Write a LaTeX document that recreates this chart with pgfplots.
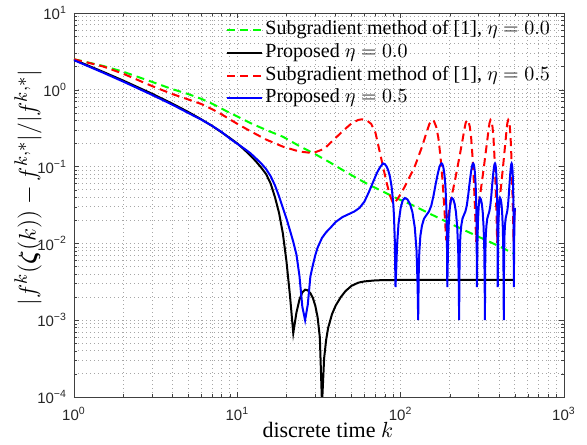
\documentclass[border=0pt]{standalone}
\usepackage{amsmath}
\usepackage{bm}
\usepackage{fontspec}
\setmainfont{Liberation Serif}
\setsansfont{Liberation Sans}
\usepackage{pgfplots}
\pgfplotsset{compat=1.18}

\begin{document}
\begin{tikzpicture}
\begin{axis}[name=ax,
  xmode=log, ymode=log, scale only axis, width=245pt, height=192pt,
  xmin=1, xmax=1000, ymin=1e-4, ymax=10,
  xtick={1,10,100,1000},
  xticklabels={\textsf{10\textsuperscript{0}},\textsf{10\textsuperscript{1}},\textsf{10\textsuperscript{2}},\textsf{10\textsuperscript{3}}},
  ytick={1e-4,1e-3,1e-2,1e-1,1,10},
  yticklabels={\textsf{10\textsuperscript{−4}},\textsf{10\textsuperscript{−3}},\textsf{10\textsuperscript{−2}},\textsf{10\textsuperscript{−1}},\textsf{10\textsuperscript{0}},\textsf{10\textsuperscript{1}}},
  minor xtick={2,3,4,5,6,7,8,9,20,30,40,50,60,70,80,90,200,300,400,500,600,700,800,900},
  minor ytick={2e-4,3e-4,4e-4,5e-4,6e-4,7e-4,8e-4,9e-4,2e-3,3e-3,4e-3,5e-3,6e-3,7e-3,8e-3,9e-3,
    0.02,0.03,0.04,0.05,0.06,0.07,0.08,0.09,0.2,0.3,0.4,0.5,0.6,0.7,0.8,0.9,2,3,4,5,6,7,8,9},
  xmajorgrids, ymajorgrids, xminorgrids, yminorgrids,
  grid style={line width=0.4pt, black!35, dash pattern=on 0.5pt off 1.5pt},
  minor grid style={line width=0.4pt, black!35, dash pattern=on 0.5pt off 1.5pt},
  tick align=inside, major tick length=2.5pt, minor tick length=1.5pt,
  axis line style={black!75}, tick style={black!75},
  tick label style={font=\sffamily\fontsize{7.5}{9}\selectfont, text=black!85},
  xticklabel style={yshift=-1.5pt},
  xlabel={discrete time $k$},
  xlabel style={font=\fontsize{11}{13}\selectfont, at={(rel axis cs:0.518,-0.085)}, anchor=center},
  ylabel={$|f^k(\bm{\zeta}(k)) - f^{k,*}|/|f^{k,*}|$},
  ylabel style={font=\fontsize{12.3}{14}\selectfont, at={(rel axis cs:-0.094,0.545)}, anchor=center},
  legend cell align=left,
  legend style={draw=none, fill=none, at={(rel axis cs:0.99,0.997)}, anchor=north east,
    font=\fontsize{10}{12}\selectfont, row sep=0pt,
    nodes={inner sep=1.4pt, text height=6.6pt, text depth=2pt}},
  every axis plot/.append style={line width=1pt},
]
\addplot[color=green, dash pattern=on 4pt off 2.5pt] coordinates {
(1,2.5)(1.5,2.05)(2,1.72)(3,1.27)(4,1.02)(5,0.88)(6,0.765)(7,0.66)(8,0.57)(9,0.5)(10,0.45)
(12,0.37)(15,0.3)(19,0.245)(24,0.185)(30,0.145)(37,0.113)(45,0.088)(55,0.069)(65,0.057)
(80,0.046)(95,0.0385)(120,0.031)(150,0.0245)(200,0.0182)(250,0.0146)(300,0.0122)
(350,0.0105)(400,0.0092)(450,0.0081)(500,0.0073)};
\addlegendentry{Subgradient method of [1], $\eta = 0.0$}
\addplot[color=black] coordinates {
(1,2.47)(1.5,1.72)(2,1.32)(3,0.89)(4,0.66)(5,0.515)(6,0.414)(7,0.339)(8,0.28)(9,0.2355)
(10,0.2)(11,0.167)(12,0.14)(13,0.117)(14,0.097)(15,0.08)(16,0.06)(17,0.04)(18,0.025)
(19,0.0135)(20,0.0058)(21,0.0021)(22,0.00068)(23,0.00125)(24,0.00185)(25,0.0023)
(26,0.0025)(27,0.00245)(28,0.00225)(29,0.00195)(30,0.00155)(31,0.0011)(32,0.0006)
(33,0.00008)(34,0.00032)(35,0.00056)(36,0.0008)(38,0.0012)(40,0.00155)(43,0.002)
(46,0.0024)(50,0.0028)(55,0.00308)(60,0.0032)(70,0.0033)(80,0.00333)(100,0.00334)(500,0.00334)};
\addlegendentry{Proposed $\eta = 0.0$}
\addplot[color=red, dash pattern=on 4pt off 2.5pt] coordinates {
(1,2.5)(1.5,2.02)(2,1.62)(3,1.12)(4,0.88)(5,0.75)(6,0.655)(7,0.56)(8,0.48)(10,0.36)
(12,0.29)(15,0.225)(19,0.182)(24,0.157)(29,0.15)(34,0.17)(39,0.225)(45,0.3)(50,0.365)
(55,0.405)(58,0.413)(62,0.4)(66,0.36)(70,0.28)(74,0.165)(78,0.1)(82,0.062)(86,0.042)
(90,0.033)(95,0.037)(100,0.044)(105,0.053)(110,0.064)(115,0.078)(120,0.092)(125,0.115)
(130,0.145)(135,0.18)(140,0.23)(145,0.29)(150,0.36)(155,0.405)(160,0.39)(165,0.33)
(170,0.24)(175,0.14)(178,0.095)(181,0.06)(184,0.035)(187,0.02)(190,0.011)
(192,0.016)(195,0.022)(200,0.031)(205,0.041)(210,0.052)(215,0.066)(220,0.085)(225,0.11)
(230,0.14)(235,0.18)(240,0.23)(245,0.3)(250,0.37)(255,0.405)(260,0.39)(265,0.33)
(270,0.24)(275,0.14)(278,0.095)(281,0.06)(284,0.035)(287,0.02)(290,0.0105)
(292,0.015)(295,0.021)(300,0.03)(305,0.04)(310,0.051)(315,0.065)(320,0.084)(325,0.108)
(330,0.14)(335,0.18)(340,0.23)(345,0.3)(350,0.37)(355,0.405)(360,0.39)(365,0.33)
(370,0.24)(375,0.14)(378,0.095)(381,0.06)(384,0.035)(387,0.02)(390,0.0102)
(392,0.015)(395,0.021)(400,0.03)(405,0.04)(410,0.051)(415,0.065)(420,0.084)(425,0.108)
(430,0.14)(435,0.18)(440,0.23)(445,0.3)(450,0.37)(456,0.405)(461,0.39)(466,0.33)
(471,0.24)(476,0.14)(479,0.095)(482,0.06)(485,0.035)(488,0.02)(491,0.0105)
(494,0.016)(497,0.021)(500,0.027)};
\addlegendentry{Subgradient method of [1], $\eta = 0.5$}
\addplot[color=blue] coordinates {
(1,2.43)(1.5,1.68)(2,1.28)(3,0.86)(4,0.64)(5,0.5)(6,0.41)(7,0.34)(8,0.283)(9,0.232)
(10,0.198)(11,0.172)(12,0.15)(13,0.128)(14,0.11)(15,0.093)(16,0.075)(17,0.057)(18,0.041)
(19,0.029)(20,0.021)(21,0.0148)(22,0.0105)(23,0.0072)(24,0.0038)(25,0.0015)(26,0.001)
(27,0.0016)(28,0.0037)(29,0.0052)(30,0.007)(31,0.0088)(33,0.0118)(35,0.014)(37,0.0158)
(40,0.019)(44,0.022)(48,0.024)(52,0.026)(56,0.029)(60,0.035)(64,0.047)(68,0.064)
(72,0.085)(75,0.099)(78,0.11)
(80,0.1076)(82,0.1005)(84,0.089)(86,0.0736)(88,0.055)(90,0.034)(91,0.0229)(92,0.0115)
(93,0.0027)(94,0.0047)(95,0.0093)(97,0.018)(100,0.029)(103,0.0365)(106,0.039)(110,0.0374)
(114,0.0328)(118,0.0256)(122,0.0162)(125,0.0083)(127,0.0028)(128,0.001)(129,0.004)
(130,0.0075)(132,0.0125)(135,0.017)(139,0.021)(144,0.0235)(149,0.026)(154,0.031)
(159,0.042)(164,0.06)(169,0.082)(173,0.1)(176,0.108)(178,0.11)
(180,0.1076)(182,0.1005)(184,0.089)(186,0.0736)(188,0.055)(190,0.034)(191,0.0229)(192,0.0115)
(193,0.0027)(194,0.0047)(195,0.0093)(197,0.018)(200,0.029)(203,0.0365)(206,0.039)(210,0.0374)
(214,0.0328)(218,0.0256)(222,0.0162)(225,0.0083)(227,0.0028)(228,0.001)(229,0.004)
(230,0.0075)(232,0.0125)(235,0.017)(239,0.021)(244,0.0235)(249,0.026)(254,0.031)
(259,0.042)(264,0.06)(269,0.082)(273,0.1)(276,0.108)(278,0.11)
(280,0.1076)(282,0.1005)(284,0.089)(286,0.0736)(288,0.055)(290,0.034)(291,0.0229)(292,0.0115)
(293,0.0027)(294,0.0047)(295,0.0093)(297,0.018)(300,0.029)(303,0.0365)(306,0.039)(310,0.0374)
(314,0.0328)(318,0.0256)(322,0.0162)(325,0.0083)(327,0.0028)(328,0.001)(329,0.004)
(330,0.0075)(332,0.0125)(335,0.017)(339,0.021)(344,0.0235)(349,0.026)(354,0.031)
(359,0.042)(364,0.06)(369,0.082)(373,0.1)(376,0.108)(378,0.11)
(380,0.1076)(382,0.1005)(384,0.089)(386,0.0736)(388,0.055)(390,0.034)(391,0.0229)(392,0.0115)
(393,0.0027)(394,0.0047)(395,0.0093)(397,0.018)(400,0.029)(403,0.0365)(406,0.039)(410,0.0374)
(414,0.0328)(418,0.0256)(422,0.0162)(425,0.0083)(427,0.0028)(428,0.001)(429,0.004)
(430,0.0075)(432,0.0125)(435,0.017)(439,0.021)(444,0.0235)(449,0.026)(454,0.031)
(459,0.042)(464,0.06)(469,0.082)(473,0.1)(476,0.108)(478,0.11)
(480,0.1076)(482,0.1005)(484,0.089)(486,0.0736)(488,0.055)(490,0.034)(491,0.0229)(492,0.0115)
(493,0.0027)(494,0.0047)(495,0.0093)(497,0.018)(500,0.029)};
\addlegendentry{Proposed $\eta = 0.5$}
\end{axis}
\pgfresetboundingbox
\path ([shift={(-37pt,-24pt)}]ax.south west) rectangle ([shift={(11.5pt,6.5pt)}]ax.north east);
\end{tikzpicture}
\end{document}
